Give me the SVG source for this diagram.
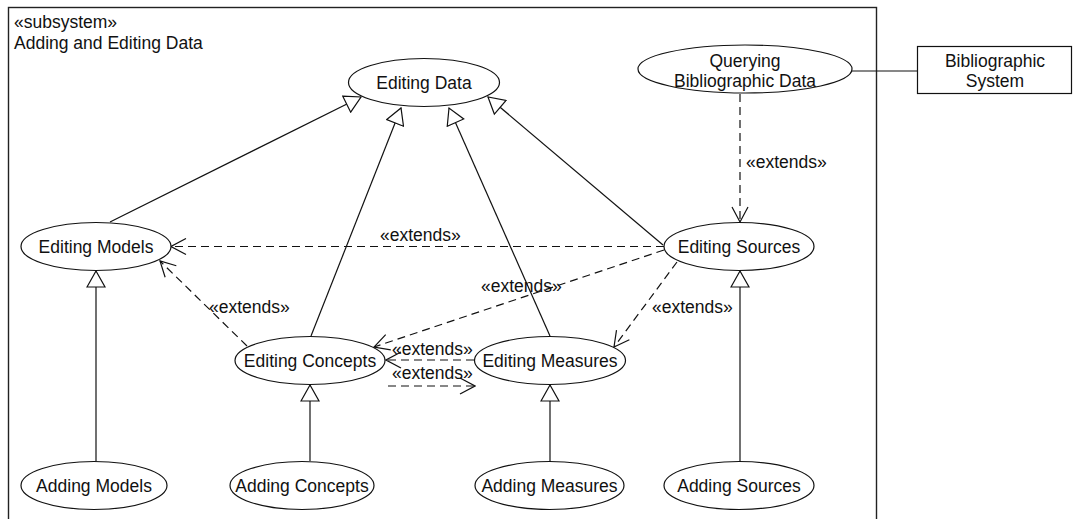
<svg xmlns="http://www.w3.org/2000/svg" width="1073" height="519" viewBox="0 0 1073 519">
  <style>
    text { font-family: "Liberation Sans", Arial, sans-serif; font-size: 17.5px; fill: #111; }
    .c { text-anchor: middle; }
    .uc { fill: #fff; stroke: #111; stroke-width: 1.2; }
    .gen { fill: none; stroke: #111; stroke-width: 1.2; marker-end: url(#tri); }
    .ext { fill: none; stroke: #111; stroke-width: 1.2; stroke-dasharray: 8 5; marker-end: url(#open); }
    .assoc { fill: none; stroke: #111; stroke-width: 1.2; }
  </style>
  <defs>
    <!-- hollow triangle for generalization -->
    <marker id="tri" viewBox="0 0 18 20" refX="17" refY="10" markerWidth="18" markerHeight="20" markerUnits="userSpaceOnUse" orient="auto">
      <path d="M1,1 L17,10 L1,19 Z" fill="#fff" stroke="#111" stroke-width="1.2"/>
    </marker>
    <!-- open arrowhead for extends -->
    <marker id="open" viewBox="0 0 17 18" refX="16" refY="9" markerWidth="17" markerHeight="18" markerUnits="userSpaceOnUse" orient="auto">
      <path d="M1,1 L16,9 L1,17" fill="none" stroke="#111" stroke-width="1.2" stroke-dasharray="none"/>
    </marker>
  </defs>

  <rect width="1073" height="519" fill="#fff"/>

  <!-- subsystem frame -->
  <g id="subsystem">
    <rect x="8.5" y="7.5" width="868" height="530" fill="none" stroke="#222" stroke-width="1.4"/>
    <text x="14" y="28">«subsystem»</text>
    <text x="14" y="49">Adding and Editing Data</text>
  </g>

  <!-- connectors -->
  <g id="connectors">
    <!-- generalizations -->
    <path class="gen" d="M110,222 L361,97"/>
    <path class="gen" d="M311,336 L401,108"/>
    <path class="gen" d="M550,336 L449,108"/>
    <path class="gen" d="M663,245 L488,97"/>
    <path class="gen" d="M96,461 L96,271"/>
    <path class="gen" d="M310,461 L310,385"/>
    <path class="gen" d="M550,461 L550,385"/>
    <path class="gen" d="M740,461 L740,271"/>
    <!-- extends -->
    <path class="ext" d="M740,94 L740,222"/>
    <path class="ext" d="M664,246.5 L171,246.5"/>
    <path class="ext" d="M664,250 L374,347"/>
    <path class="ext" d="M677,262 L614,347"/>
    <path class="ext" d="M247,346 L160,261"/>
    <path class="ext" d="M474,360 L386,360"/>
    <path class="ext" d="M388,386 L475,386"/>
    <!-- association to actor system -->
    <path class="assoc" d="M852,71 L917,71"/>
    <!-- labels -->
    <text x="746" y="168">«extends»</text>
    <text x="380" y="241">«extends»</text>
    <text x="481" y="292">«extends»</text>
    <text x="652" y="313">«extends»</text>
    <text x="209" y="313">«extends»</text>
    <text x="392" y="355">«extends»</text>
    <text x="392" y="379">«extends»</text>
  </g>

  <!-- use cases -->
  <g id="editing-data">
    <ellipse class="uc" cx="424" cy="82.5" rx="75.5" ry="24"/>
    <text class="c" x="424" y="88.5">Editing Data</text>
  </g>
  <g id="querying-bibliographic-data">
    <ellipse class="uc" cx="745" cy="69" rx="107" ry="24"/>
    <text class="c" x="745" y="66.5">Querying</text>
    <text class="c" x="745" y="86.5">Bibliographic Data</text>
  </g>
  <g id="editing-models">
    <ellipse class="uc" cx="96" cy="246.5" rx="75" ry="24"/>
    <text class="c" x="96" y="252.5">Editing Models</text>
  </g>
  <g id="editing-sources">
    <ellipse class="uc" cx="739" cy="246.5" rx="75" ry="24"/>
    <text class="c" x="739" y="252.5">Editing Sources</text>
  </g>
  <g id="editing-concepts">
    <ellipse class="uc" cx="310" cy="360.5" rx="75" ry="24"/>
    <text class="c" x="310" y="366.5">Editing Concepts</text>
  </g>
  <g id="editing-measures">
    <ellipse class="uc" cx="550" cy="360.5" rx="75.5" ry="24"/>
    <text class="c" x="550" y="366.5">Editing Measures</text>
  </g>
  <g id="adding-models">
    <ellipse class="uc" cx="94" cy="485.5" rx="73" ry="24"/>
    <text class="c" x="94" y="491.5">Adding Models</text>
  </g>
  <g id="adding-concepts">
    <ellipse class="uc" cx="302" cy="485.5" rx="72" ry="24"/>
    <text class="c" x="302" y="491.5">Adding Concepts</text>
  </g>
  <g id="adding-measures">
    <ellipse class="uc" cx="549.5" cy="485.5" rx="74.5" ry="24"/>
    <text class="c" x="549.5" y="491.5">Adding Measures</text>
  </g>
  <g id="adding-sources">
    <ellipse class="uc" cx="739" cy="485.5" rx="75" ry="24"/>
    <text class="c" x="739" y="491.5">Adding Sources</text>
  </g>

  <!-- external actor system -->
  <g id="bibliographic-system">
    <rect x="917.5" y="46.5" width="154" height="47" fill="#fff" stroke="#111" stroke-width="1.2"/>
    <text class="c" x="995" y="66.5">Bibliographic</text>
    <text class="c" x="995" y="86.5">System</text>
  </g>
</svg>
